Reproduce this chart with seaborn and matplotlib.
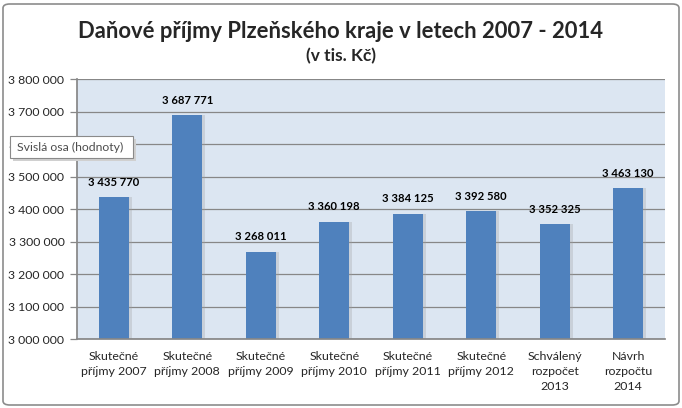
import numpy as np
import pandas as pd
import matplotlib
matplotlib.use("Agg")
import matplotlib.pyplot as plt
import seaborn as sns
from matplotlib.patches import FancyBboxPatch, Rectangle

categories = [
    "Skutečné\npříjmy 2007",
    "Skutečné\npříjmy 2008",
    "Skutečné\npříjmy 2009",
    "Skutečné\npříjmy 2010",
    "Skutečné\npříjmy 2011",
    "Skutečné\npříjmy 2012",
    "Schválený\nrozpočet\n2013",
    "Návrh\nrozpočtu\n2014",
]
values = [3435770, 3687771, 3268011, 3360198, 3384125, 3392580, 3352325, 3463130]
y_ticks = list(range(3000000, 3800001, 100000))

df = pd.DataFrame({"kategorie": categories, "hodnota": values})

sns.set_theme(style="white")
plt.rcParams["font.family"] = ["Lato", "DejaVu Sans"]

fig = plt.figure(figsize=(6.82, 4.08), dpi=100)
ax = fig.add_axes([77 / 682, 1 - 339 / 408, (665 - 77) / 682, (339 - 79) / 408])

bar_color = "#4F81BD"
grid_color = "#878787"

# soft shadow bars behind the real ones
ax.bar(np.arange(len(values)) + 0.04, np.array(values) - 3000000, bottom=3000000,
       width=0.41, color="#a0a0a0", alpha=0.3, linewidth=0, zorder=1)
sns.barplot(data=df, x="kategorie", y="hodnota", color=bar_color, width=0.41,
            saturation=1, linewidth=0, edgecolor=bar_color, ax=ax, zorder=2)

ax.set_facecolor("#DCE6F2")
ax.set_ylim(3000000, 3800000)
ax.set_xlim(-0.5, len(values) - 0.5)
ax.set_yticks(y_ticks)
ax.set_yticklabels([f"{v:,}".replace(",", " ") for v in y_ticks], fontsize=8.8)
ax.yaxis.grid(True, color=grid_color, linewidth=0.9)
ax.set_axisbelow(True)
ax.set_xlabel("")
ax.set_ylabel("")

ax.set_xticks(np.arange(len(values)))
ax.set_xticklabels(categories, fontsize=8.9, linespacing=1.4)
ax.set_xticks(np.arange(len(values) + 1) - 0.5, minor=True)
ax.tick_params(axis="x", which="major", length=0, pad=9)
ax.tick_params(axis="x", which="minor", length=5, color=grid_color, width=0.9)
ax.tick_params(axis="y", length=5, color=grid_color, width=0.9, pad=4, left=True)

for side in ["top", "right"]:
    ax.spines[side].set_visible(False)
ax.spines["left"].set_color(grid_color)
ax.spines["bottom"].set_color(grid_color)

for i, v in enumerate(values):
    ax.annotate(f"{v:,}".replace(",", " "), (i, v), xytext=(0, 7),
                textcoords="offset points", ha="center", va="bottom",
                fontsize=8.1, fontweight="bold", color="black")

fig.text(0.5, 1 - 31 / 408, "Daňové příjmy Plzeňského kraje v letech 2007 - 2014",
         ha="center", va="center", fontsize=15.8, fontweight="bold")
fig.text(0.5, 1 - 56 / 408, "(v tis. Kč)", ha="center", va="center",
         fontsize=12.5, fontweight="bold")

# outer chart border
border = FancyBboxPatch((3 / 682, 3 / 408), 676 / 682, 401 / 408,
                        boxstyle="round,pad=0,rounding_size=0.01",
                        transform=fig.transFigure, fill=False,
                        edgecolor="#8c8c8c", linewidth=1.2)
fig.patches.append(border)

# tooltip (covers the 3 600 000 tick label like in the screenshot)
fig.patches.append(Rectangle((13 / 682, 1 - 161 / 408), 123 / 682, 22 / 408,
                             transform=fig.transFigure, facecolor="#d0d0d0",
                             edgecolor="none", zorder=5))
fig.patches.append(Rectangle((10 / 682, 1 - 158 / 408), 123 / 682, 22 / 408,
                             transform=fig.transFigure, facecolor="white",
                             edgecolor="#8a8a8a", linewidth=0.8, zorder=6))
fig.text(17 / 682, 1 - 147 / 408, "Svislá osa (hodnoty)", ha="left", va="center",
         fontsize=8.8, color="#4d4d4d", zorder=7)

fig.savefig("out.png", dpi=100)
